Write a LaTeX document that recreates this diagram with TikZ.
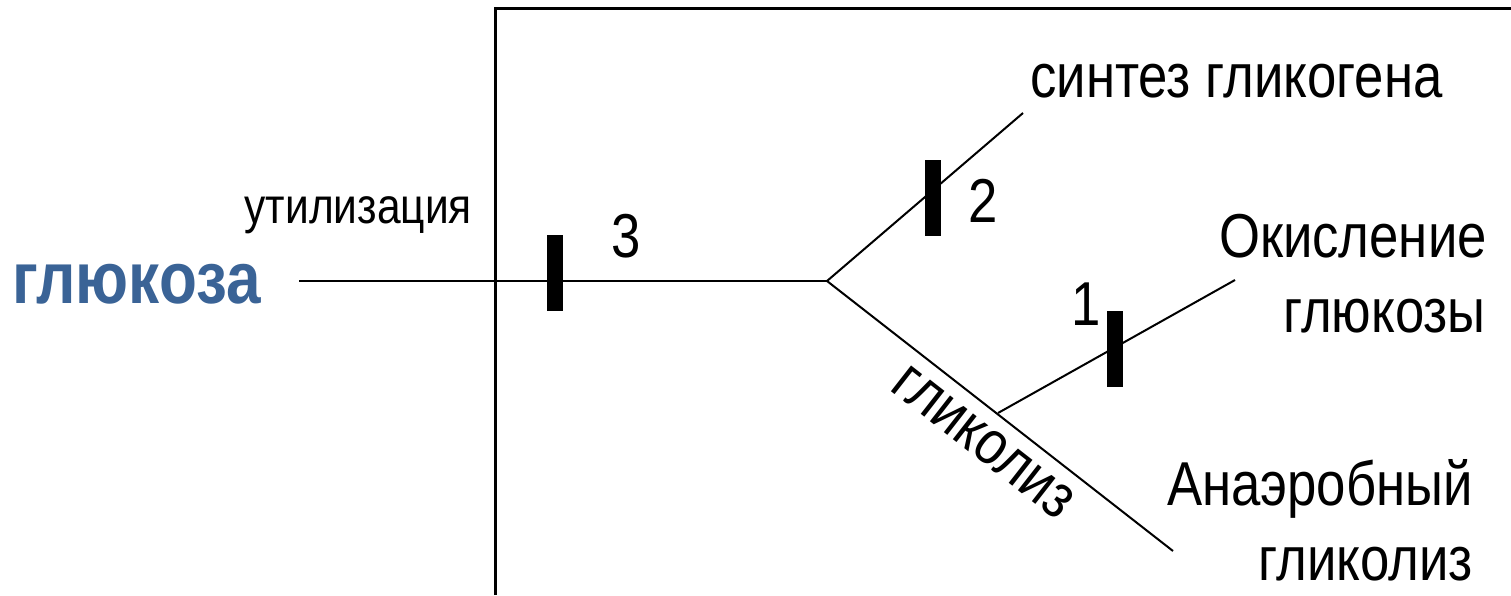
\documentclass[tikz,border=0pt]{standalone}
\usepackage{fontspec}
\setmainfont{Liberation Sans}[FakeStretch=0.85]
\definecolor{glucoseblue}{RGB}{58,99,150}
\begin{document}
\begin{tikzpicture}[x=1pt,y=-1pt,
  thin line/.style={line width=2pt},
  frame line/.style={line width=3pt},
  blocker/.style={rectangle,fill=black,draw=none,minimum width=16pt,minimum height=76pt,inner sep=0pt},
  lbl/.style={inner sep=0pt,font=\fontsize{62}{70}\selectfont},
  small lbl/.style={inner sep=0pt,font=\fontsize{50}{58}\selectfont},
  title lbl/.style={inner sep=0pt,text=glucoseblue,font=\fontsize{73}{83}\selectfont\bfseries}]
  \useasboundingbox (0,0) rectangle (1511,595);

  % frame of the cell
  \draw[frame line] (495,595) -- (495,8) -- (1511,8);

  % pathway points
  \coordinate (start) at (299,281);
  \coordinate (fork) at (827,281);
  \coordinate (synEnd) at (1023,113);
  \coordinate (glyEnd) at (1173,551);
  \coordinate (oxStart) at (998,413);
  \coordinate (oxEnd) at (1235,280);

  \draw[thin line] (start) -- (fork);
  \draw[thin line] (fork) -- (synEnd);
  \draw[thin line] (fork) -- (glyEnd);
  \draw[thin line] (oxStart) -- (oxEnd);

  % regulation blocks
  \node[blocker] (b3) at (555,273) {};
  \node[blocker] (b2) at (933,197.5) {};
  \node[blocker] (b1) at (1115,349) {};

  % labels
  \node[title lbl,anchor=base west] (glc) at (12,303) {глюкоза};
  \node[small lbl,anchor=base east] (util) at (472,223) {утилизация};
  \node[lbl,anchor=base west] (n3) at (611,257) {3};
  \node[lbl,anchor=base west] (n2) at (968,222) {2};
  \node[lbl,anchor=base west] (n1) at (1071,325) {1};
  \node[lbl,anchor=base west] (syn) at (1030,97) {синтез гликогена};
  \node[lbl,anchor=base east] (ox1) at (1487,257) {Окисление};
  \node[lbl,anchor=base east] (ox2) at (1486,332) {глюкозы};
  \node[lbl,anchor=base east] (an1) at (1473,505) {Анаэробный};
  \node[lbl,anchor=base east] (an2) at (1473,580) {гликолиз};
  \node[lbl,anchor=mid,rotate=-38] (gly) at (975,453) {гликолиз};
\end{tikzpicture}
\end{document}
